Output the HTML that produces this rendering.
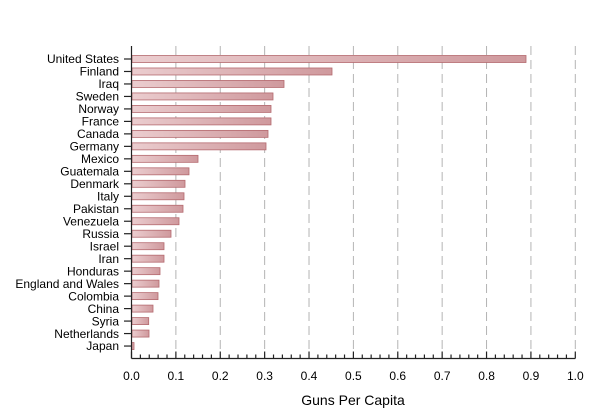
<!DOCTYPE html>
<html><head><style>body{margin:0;background:#fff}svg{display:block}</style></head><body>
<svg width="600" height="413" xmlns="http://www.w3.org/2000/svg" font-family="Liberation Sans, Arial, sans-serif">
<defs><linearGradient id="g" x1="0" x2="1" y1="0" y2="0"><stop offset="0" stop-color="#ebcdcf"/><stop offset="1" stop-color="#cf999d"/></linearGradient></defs>
<g id="grid" stroke="#b4b4b4" stroke-width="1" stroke-dasharray="9,5"></g>
<g id="bars"></g>
<g id="axes" stroke="#222" stroke-width="1.2" fill="none"></g>
<g id="labels" font-size="12" fill="#000"></g>
<text x="353" y="405" font-size="14" text-anchor="middle">Guns Per Capita</text>
</svg>
<script>
var ns="http://www.w3.org/2000/svg";
function el(p,t,a,txt){var e=document.createElementNS(ns,t);for(var k in a)e.setAttribute(k,a[k]);if(txt)e.textContent=txt;document.getElementById(p).appendChild(e);}
var x0=131.5,sc=443.8,yb=358.5;
for(var i=1;i<=10;i++){var x=x0+i*sc/10;el("grid","line",{x1:x,x2:x,y1:46,y2:yb});}
var d=[["United States",526],["Finland",332],["Iraq",284],["Sweden",273],["Norway",271],["France",271],["Canada",268],["Germany",266],["Mexico",198],["Guatemala",189],["Denmark",185],["Italy",184],["Pakistan",183],["Venezuela",179],["Russia",171],["Israel",164],["Iran",164],["Honduras",160],["England and Wales",159],["Colombia",158],["China",153],["Syria",148.7],["Netherlands",149],["Japan",134]];
d.forEach(function(r,i){var y=59+i*12.48;
el("bars","rect",{x:132,y:y-3.5,width:r[1]-132,height:7,fill:"url(#g)",stroke:"#b56a6f","stroke-width":0.8});
el("axes","line",{x1:124,x2:131,y1:y,y2:y});
el("labels","text",{x:119,y:y+4.2,"text-anchor":"end"},r[0]);});
el("axes","line",{x1:x0,x2:x0,y1:46,y2:yb});
el("axes","line",{x1:x0,x2:x0+sc,y1:yb,y2:yb});
for(var i=0;i<=50;i++){var x=x0+i*sc/50;el("axes","line",{x1:x,x2:x,y1:yb,y2:yb-(i%5==0?7:4)});}
for(var i=0;i<=10;i++){el("labels","text",{x:x0+i*sc/10,y:380,"text-anchor":"middle"},(i/10).toFixed(1));}
</script>
</body></html>
